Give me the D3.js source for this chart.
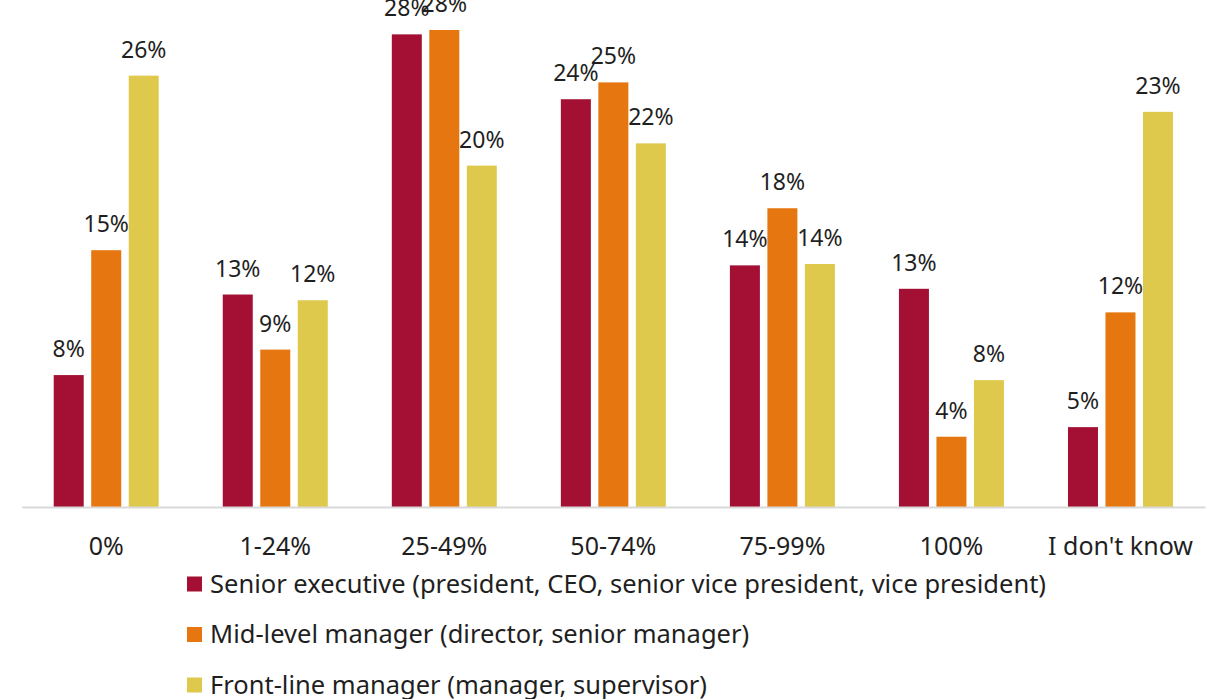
<!DOCTYPE html>
<html>
<head>
<meta charset="utf-8">
<script src="https://cdn.jsdelivr.net/npm/d3@7"></script>
<style>
  html, body { margin: 0; padding: 0; background: #fff; }
  svg { display: block; font-family: "Noto Sans", "Open Sans", sans-serif; }
  .lbl { fill: #1f1f1f; }
</style>
</head>
<body>
<svg id="chart" width="1212" height="699"></svg>
<script>
'use strict';

var categories = ['0%', '1-24%', '25-49%', '50-74%', '75-99%', '100%', "I don't know"];
var seriesNames = [
  'Senior executive (president, CEO, senior vice president, vice president)',
  'Mid-level manager (director, senior manager)',
  'Front-line manager (manager, supervisor)'
];
// percent values
var seniorValues   = [7.83, 12.61, 28.05, 24.2, 14.34, 12.95, 4.74];
var midValues      = [15.24, 9.34, 28.31, 25.2, 17.73, 4.17, 11.55];
var frontValues    = [25.6, 12.27, 20.26, 21.58, 14.42, 7.53, 23.45];
var seriesColors   = ['#a31034', '#e6760f', '#dfc94d'];

var allValues = [seniorValues, midValues, frontValues];

var svg = d3.select('#chart');

var baseY = 507;
var x0 = d3.scaleBand().domain(categories).range([21.7, 1205]).padding(0);
var x1 = d3.scaleBand().domain([0, 1, 2]).range([-52.5, 52.5]).paddingInner(0.2);
var y = d3.scaleLinear().domain([0, 30]).range([baseY, baseY - 30 * 16.85]);

// bars
var groups = svg.append('g').selectAll('g')
  .data(categories)
  .enter().append('g')
  .attr('transform', function(d) { return 'translate(' + (x0(d) + x0.bandwidth() / 2) + ',0)'; });

groups.each(function(cat, i) {
  var g = d3.select(this);
  var rows = allValues.map(function(vals, s) { return { s: s, v: vals[i] }; });

  g.selectAll('rect')
    .data(rows)
    .enter().append('rect')
    .attr('x', function(d) { return x1(d.s); })
    .attr('y', function(d) { return y(d.v); })
    .attr('width', x1.bandwidth())
    .attr('height', function(d) { return y(0) - y(d.v); })
    .attr('fill', function(d) { return seriesColors[d.s]; });

  g.selectAll('text')
    .data(rows)
    .enter().append('text')
    .attr('class', 'lbl')
    .attr('x', function(d) { return x1(d.s) + x1.bandwidth() / 2; })
    .attr('y', function(d) { return y(d.v) - 18; })
    .attr('text-anchor', 'middle')
    .style('font-size', '23px')
    .text(function(d) { return Math.round(d.v) + '%'; });
});

// category axis
var xAxis = d3.axisBottom(x0).tickSize(0).tickPadding(0);
var axisG = svg.append('g')
  .attr('transform', 'translate(0,' + baseY + ')')
  .call(xAxis);
axisG.select('.domain').attr('stroke', '#d9d9d9').attr('stroke-width', 2);
axisG.selectAll('text')
  .attr('class', 'lbl')
  .attr('y', 48)
  .attr('dy', null)
  .style('font-family', '"Noto Sans", "Open Sans", sans-serif')
  .style('font-size', '25px');

// legend
var legend = svg.append('g').selectAll('g')
  .data(seriesNames)
  .enter().append('g')
  .attr('transform', function(d, i) { return 'translate(187,' + (584 + i * 50.5) + ')'; });

legend.append('rect')
  .attr('x', 0)
  .attr('y', -7.5)
  .attr('width', 15)
  .attr('height', 15)
  .attr('fill', function(d, i) { return seriesColors[i]; });

legend.append('text')
  .attr('class', 'lbl')
  .attr('x', 23)
  .attr('y', 8.5)
  .style('font-size', '25.5px')
  .text(function(d) { return d; });
</script>
</body>
</html>
